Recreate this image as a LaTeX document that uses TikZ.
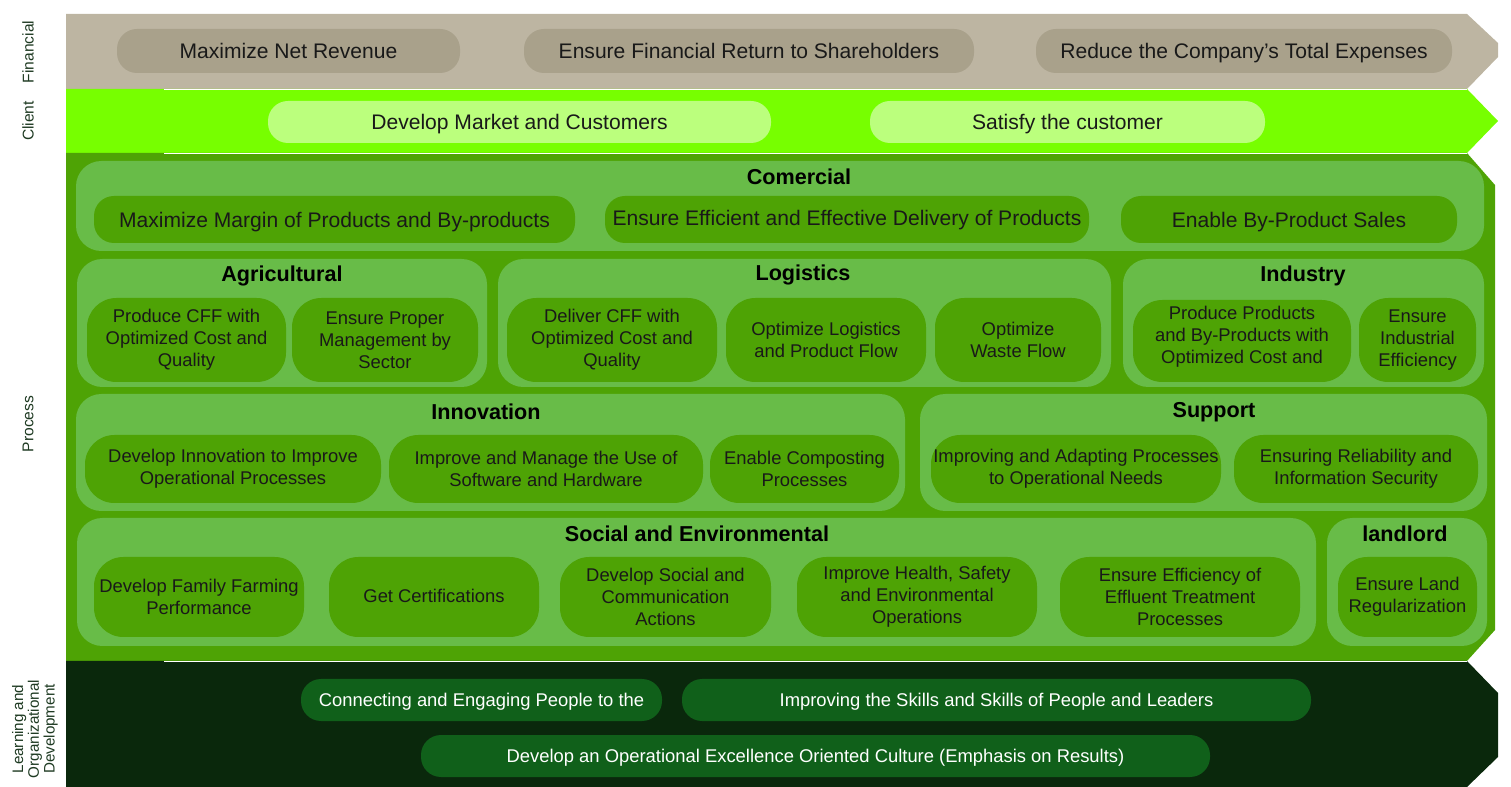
\documentclass[tikz,border=0pt]{standalone}
\usepackage{fontspec}
\setmainfont{Liberation Sans}
\usetikzlibrary{fit}

\definecolor{finband}{HTML}{BDB5A2}
\definecolor{finpill}{HTML}{A9A18B}
\definecolor{cliband}{HTML}{77FF00}
\definecolor{clipill}{HTML}{BBFF7D}
\definecolor{procband}{HTML}{4EA305}
\definecolor{groupgreen}{HTML}{68BC48}
\definecolor{lrnband}{HTML}{0A280C}
\definecolor{lrnpill}{HTML}{10601A}
\definecolor{labeltext}{HTML}{1E3A22}

\tikzset{
  band label/.style={rotate=90, text=labeltext, align=center,
    font=\fontsize{11.7pt}{12.6pt}\selectfont},
  group/.style={fill=groupgreen, rounded corners=19pt, inner sep=0pt},
  group title/.style={text=black, font=\bfseries\fontsize{16.2pt}{19pt}\selectfont},
  goal/.style={fill=procband, rounded corners=22pt, inner sep=0pt},
  wide goal/.style={goal, rounded corners=15pt},
  fin goal/.style={wide goal, fill=finpill},
  cli goal/.style={wide goal, fill=clipill},
  lrn goal/.style={goal, rounded corners=15pt, fill=lrnpill},
  goal text/.style={align=center, inner sep=0pt, text=black!90,
    font=\fontsize{13.8pt}{16.6pt}\selectfont},
  wide text/.style={goal text, text height=11.3pt, text depth=0pt,
    font=\fontsize{15.8pt}{18pt}\selectfont},
  lrn text/.style={goal text, text=white, text height=9.9pt, text depth=0pt},
  split/.style={white, line width=0.8pt}
}

\begin{document}
\begin{tikzpicture}[x=0.75pt, y=-0.75pt]
  \useasboundingbox (0,0) rectangle (1511,787);

  % bands
  \fill[finband] (66,14) -- (1467,14) -- (1498,43) -- (1498,57) -- (1467,89) -- (66,89) -- cycle;
  \fill[cliband] (66,89) -- (1467,89) -- (1498,121) -- (1467,153) -- (66,153) -- cycle;
  \fill[procband] (66,153) -- (1467,153) -- (1495,185) -- (1495,630) -- (1467,661) -- (66,661) -- cycle;
  \fill[lrnband] (66,661) -- (1467,661) -- (1498,693) -- (1498,757) -- (1467,787) -- (66,787) -- cycle;
  \draw[split] (164,89.5) -- (1467,89.5);
  \draw[split] (164,153.5) -- (1467,153.5);
  \draw[split] (164,661.5) -- (1467,661.5);

  \node at (28,52) [band label] (lfin) {Financial};
  \node at (28,121) [band label] (lcli) {Client};
  \node at (28,424) [band label] (lproc) {Process};
  \node at (35,729) [band label, font=\fontsize{11.4pt}{11.8pt}\selectfont] (llrn)
  {Learning and\\Organizational\\Development};

  % financial
  \node [fin goal, fit={(117,29) (460,73)}] (netrev) {};
  \node [fin goal, fit={(524,29) (974,73)}] (shares) {};
  \node [fin goal, fit={(1036,29) (1452,73)}] (costs) {};
  \node at (netrev) [wide text] {Maximize Net Revenue};
  \node at (shares) [wide text] {Ensure Financial Return to Shareholders};
  \node at (costs) [wide text] {Reduce the Company’s Total Expenses};

  % client
  \node [cli goal, fit={(268,101) (771,143)}] (market) {};
  \node [cli goal, fit={(870,101) (1265,143)}] (satisfy) {};
  \node at (market) [wide text] {Develop Market and Customers};
  \node at (satisfy) [wide text] {Satisfy the customer};

  % process groups
  \node [group, fit={(76,161) (1484,251)}] (gcom) {};
  \node [group, fit={(77,259) (487,387)}] (gagr) {};
  \node [group, fit={(498,259) (1111,387)}] (glog) {};
  \node [group, fit={(1123,259) (1484,387)}] (gind) {};
  \node [group, fit={(76,394) (905,511)}] (ginn) {};
  \node [group, fit={(920,394) (1487,511)}] (gsup) {};
  \node [group, fit={(77,518) (1316,646)}] (gsoc) {};
  \node [group, fit={(1327,518) (1487,646)}] (glan) {};

  \node at (799,177) [group title] (tcom) {Comercial};
  \node at (282,276) [group title] (tagr) {Agricultural};
  \node at (803,275) [group title] (tlog) {Logistics};
  \node at (1303,276) [group title] (tind) {Industry};
  \node at (486,412) [group title] (tinn) {Innovation};
  \node at (1214,412) [group title] (tsup) {Support};
  \node at (697,534) [group title] (tsoc) {Social and Environmental};
  \node at (1405,534) [group title] (tlan) {landlord};

  % comercial
  \node [wide goal, fit={(94,196) (575,243)}] (margin) {};
  \node [wide goal, fit={(605,196) (1089,243)}] (deliv) {};
  \node [wide goal, fit={(1121,196) (1457,243)}] (sales) {};
  \node at (margin) [wide text] {Maximize Margin of Products and By-products};
  \node at ([yshift=1.5pt]deliv) [wide text] {Ensure Efficient and Effective Delivery of Products};
  \node at (sales) [wide text] {Enable By-Product Sales};

  % agricultural, logistics, industry
  \node [goal, fit={(87,298) (286,382)}] (cff) {};
  \node [goal, fit={(292,298) (478,382)}] (sector) {};
  \node [goal, fit={(507,298) (717,382)}] (dcff) {};
  \node [goal, fit={(726,298) (926,382)}] (flow) {};
  \node [goal, fit={(935,298) (1101,382)}] (waste) {};
  \node [goal, fit={(1133,300) (1351,382)}] (prod) {};
  \node [goal, fit={(1359,298) (1476,382)}] (indeff) {};
  \node at (cff) [goal text] {Produce CFF with\\Optimized Cost and\\Quality};
  \node at (sector) [goal text] {Ensure Proper\\Management by\\Sector};
  \node at (dcff) [goal text] {Deliver CFF with\\Optimized Cost and\\Quality};
  \node at (flow) [goal text] {Optimize Logistics\\and Product Flow};
  \node at (waste) [goal text] {Optimize\\Waste Flow};
  \node at ([yshift=3pt]prod) [goal text] {Produce Products\\and By-Products with\\Optimized Cost and};
  \node at (indeff) [goal text] {Ensure\\Industrial\\Efficiency};

  % innovation, support
  \node [goal, fit={(85,435) (381,503)}] (innov) {};
  \node [goal, fit={(389,435) (703,503)}] (soft) {};
  \node [goal, fit={(710,435) (899,503)}] (compost) {};
  \node [goal, fit={(931,435) (1221,503)}] (adapt) {};
  \node [goal, fit={(1234,435) (1478,503)}] (secur) {};
  \node at (innov) [goal text] {Develop Innovation to Improve\\Operational Processes};
  \node at (soft) [goal text] {Improve and Manage the Use of\\Software and Hardware};
  \node at (compost) [goal text] {Enable Composting\\Processes};
  \node at (adapt) [goal text] {Improving and Adapting Processes\\to Operational Needs};
  \node at (secur) [goal text] {Ensuring Reliability and\\Information Security};

  % social and environmental, landlord
  \node [goal, fit={(94,557) (304,637)}] (family) {};
  \node [goal, fit={(329,557) (539,637)}] (cert) {};
  \node [goal, fit={(560,557) (771,637)}] (comm) {};
  \node [goal, fit={(797,557) (1037,637)}] (health) {};
  \node [goal, fit={(1060,557) (1300,637)}] (efflu) {};
  \node [goal, fit={(1338,557) (1477,637)}] (land) {};
  \node at (family) [goal text] {Develop Family Farming\\Performance};
  \node at ([yshift=1pt]cert) [goal text] {Get Certifications};
  \node at (comm) [goal text] {Develop Social and\\Communication\\Actions};
  \node at (health) [goal text] {Improve Health, Safety\\and Environmental\\Operations};
  \node at (efflu) [goal text] {Ensure Efficiency of\\Effluent Treatment\\Processes};
  \node at (land) [goal text] {Ensure Land\\Regularization};

  % learning
  \node [lrn goal, fit={(301,679) (662,721)}] (engage) {};
  \node [lrn goal, fit={(682,679) (1311,721)}] (skills) {};
  \node [lrn goal, fit={(421,735) (1210,777)}] (culture) {};
  \node at (engage) [lrn text] {Connecting and Engaging People to the};
  \node at (skills) [lrn text] {Improving the Skills and Skills of People and Leaders};
  \node at (culture) [lrn text] {Develop an Operational Excellence Oriented Culture (Emphasis on Results)};
\end{tikzpicture}
\end{document}
